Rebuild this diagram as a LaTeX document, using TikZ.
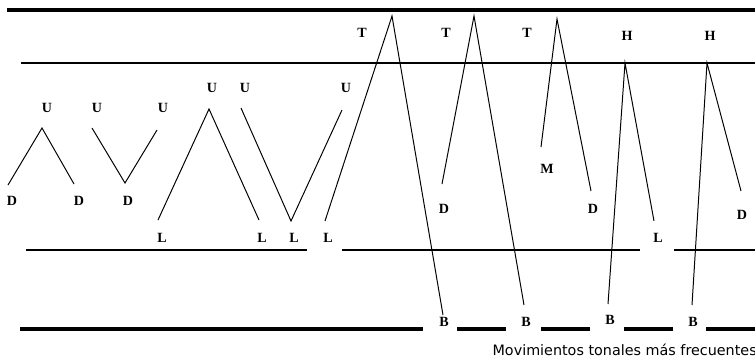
\documentclass[tikz,border=0pt]{standalone}
\usepackage{fontspec}
\setmainfont{Liberation Serif}
\newfontfamily\capfont{DejaVu Sans}
\usetikzlibrary{positioning}
\tikzset{
  tone/.style={font=\bfseries\fontsize{10}{11}\selectfont, inner sep=0pt},
  staff/.style={line width=0.8pt, black},
  heavystaff/.style={line width=3.2pt, black},
  contour/.style={line width=0.7pt, black}
}

\begin{document}
\begin{tikzpicture}[x=0.025cm, y=-0.025cm]
  \useasboundingbox (0,0) rectangle (755,357);

  % Staff lines
  \coordinate (top w) at (7,10);    \coordinate (top e) at (755,10);
  \coordinate (high w) at (21,63);  \coordinate (high e) at (755,63);
  \draw[heavystaff] (top w) -- (top e);
  \draw[staff] (high w) -- (high e);
  \foreach \a/\b [count=\i] in {26/307, 342/640, 674/755} {
    \coordinate (low w\i) at (\a,250);
    \coordinate (low e\i) at (\b,250);
    \draw[staff] (low w\i) -- (low e\i);
  }
  \foreach \a/\b [count=\i] in {20/423, 457/506, 541/590, 624/673, 706/755} {
    \coordinate (base w\i) at (\a,329);
    \coordinate (base e\i) at (\b,329);
    \draw[heavystaff] (base w\i) -- (base e\i);
  }

  % Tone labels
  \node[tone] (d1) at (12,201) {D};
  \node[tone] (u1) at (47,108) {U};
  \node[tone] (d2) at (79,201) {D};
  \node[tone] (u2) at (97,108) {U};
  \node[tone] (d3) at (128,201) {D};
  \node[tone] (u3) at (163,108) {U};
  \node[tone] (l1) at (162,238) {L};
  \node[tone] (u4) at (212,88) {U};
  \node[tone] (u5) at (245,88) {U};
  \node[tone] (l2) at (262,238) {L};
  \node[tone] (l3) at (294,238) {L};
  \node[tone] (u6) at (346,88) {U};
  \node[tone] (l4) at (328,238) {L};
  \node[tone] (t1) at (362,33) {T};
  \node[tone] (t2) at (446,33) {T};
  \node[tone] (d4) at (444,209) {D};
  \node[tone] (b1) at (444,322) {B};
  \node[tone] (t3) at (527,33) {T};
  \node[tone] (b2) at (526,322) {B};
  \node[tone] (m1) at (547,169) {M};
  \node[tone] (d5) at (593,209) {D};
  \node[tone] (b3) at (610,320) {B};
  \node[tone] (h1) at (627,36) {H};
  \node[tone] (l5) at (658,238) {L};
  \node[tone] (b4) at (693,322) {B};
  \node[tone] (h2) at (710,36) {H};
  \node[tone] (d6) at (742,215) {D};

  % Contour points
  \coordinate (p1) at (8,185);    \coordinate (q1) at (42,128);   \coordinate (r1) at (74,184);
  \coordinate (p2) at (92,128);   \coordinate (q2) at (125,183);  \coordinate (r2) at (157,130);
  \coordinate (p3) at (158,220);  \coordinate (q3) at (209,109);  \coordinate (r3) at (259,220);
  \coordinate (p4) at (241,108);  \coordinate (q4) at (291,221);  \coordinate (r4) at (342,110);
  \coordinate (p5) at (325,221);  \coordinate (q5) at (392,16);   \coordinate (r5) at (443,315);
  \coordinate (p6) at (442,184);  \coordinate (q6) at (474,16);   \coordinate (r6) at (524,305);
  \coordinate (p7) at (541,147);  \coordinate (q7) at (557,19);   \coordinate (r7) at (591,191);
  \coordinate (p8) at (608,304);  \coordinate (q8) at (625,63);   \coordinate (r8) at (654,221);
  \coordinate (p9) at (692,305);  \coordinate (q9) at (707,63);   \coordinate (r9) at (741,191);

  % Tonal movements
  \foreach \i in {1,...,9}
    \draw[contour] (p\i) -- (q\i) -- (r\i);

  % Caption
  \node[font=\capfont\fontsize{10.2}{12}\selectfont, anchor=east, inner sep=0pt] (caption)
    at (757,350) {Movimientos tonales más frecuentes};
\end{tikzpicture}
\end{document}
